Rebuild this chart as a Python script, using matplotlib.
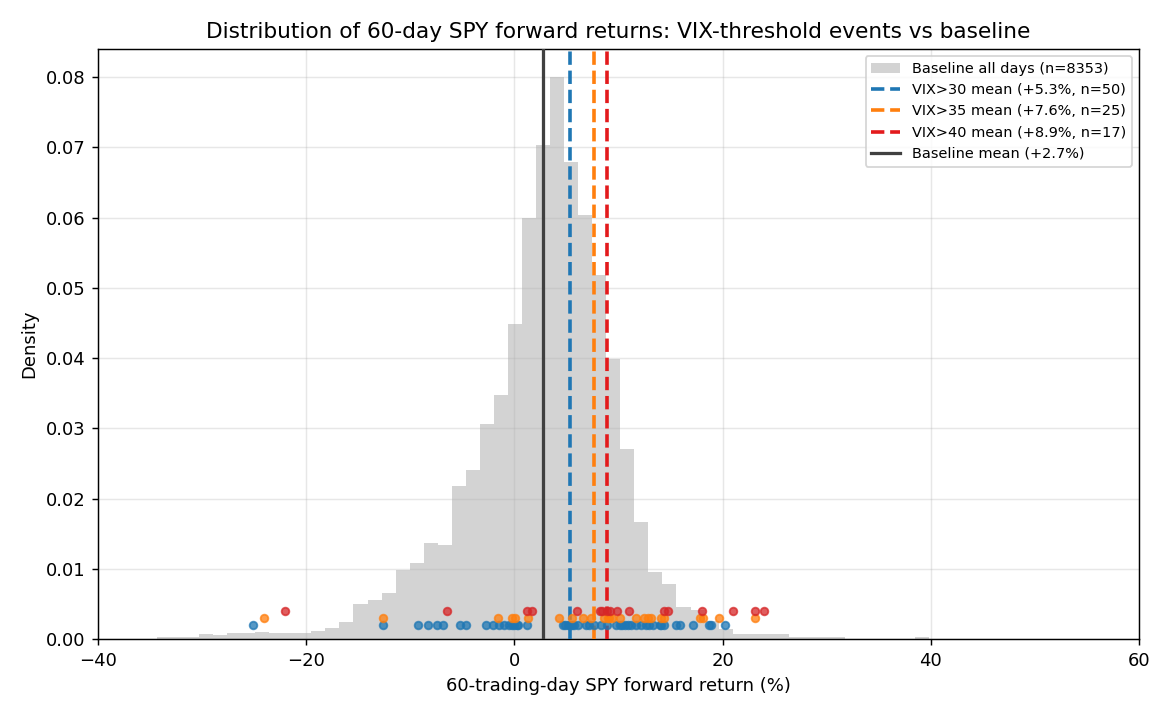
import numpy as np
import matplotlib
matplotlib.use("Agg")
import matplotlib.pyplot as plt

# Baseline histogram (density), 55 equal bins between these limits
hist_lo, hist_hi = -34.35, 39.85
baseline_density = [
    0.00025, 0.00025, 0.00025, 0.0007, 0.00057, 0.0008, 0.0008, 0.0010, 0.0008, 0.0009,
    0.0009, 0.0012, 0.0016, 0.0024, 0.0050, 0.0055, 0.0065, 0.0098, 0.0108, 0.0136,
    0.0134, 0.0218, 0.0241, 0.0306, 0.0347, 0.0448, 0.0600, 0.0703, 0.0800, 0.0679,
    0.0604, 0.0518, 0.0399, 0.0270, 0.0167, 0.0095, 0.0079, 0.0046, 0.0041, 0.0025,
    0.0014, 0.0007, 0.0007, 0.0007, 0.0007, 0.0003, 0.0003, 0.0003, 0.0003, 0.0,
    0.0, 0.0, 0.0, 0.0, 0.0003,
]
baseline_n = 8353
baseline_mean = 2.7

# Event forward returns (%)
vix30_returns = [
    -25.1, -12.6, -9.3, -8.3, -7.4, -6.9, -5.2, -4.7, -2.7, -2.1, -1.45, -1.0,
    -0.5, -0.2, 0.0, 0.2, 0.3, 1.2, 4.7, 4.9, 5.1, 5.3, 5.5, 5.7, 6.15, 6.9,
    7.2, 7.6, 8.3, 8.9, 9.8, 10.1, 10.3, 10.6, 10.9, 11.2, 11.7, 12.2, 12.6, 12.9,
    13.3, 14.0, 14.1, 14.4, 15.5, 15.9, 17.2, 18.7, 18.9, 20.2,
]
vix35_returns = [
    -24.1, -12.6, -1.6, -0.2, 0.1, 1.34, 4.32, 5.5, 6.56, 7.33, 8.6, 9.0, 9.05,
    9.4, 10.1, 11.7, 12.4, 12.8, 13.1, 14.1, 14.4, 17.8, 18.1, 19.7, 23.1,
]
vix40_returns = [
    -22.0, -6.45, 1.17, 1.65, 5.98, 8.2, 8.45, 8.85, 9.2, 9.88, 11.04, 14.4,
    14.8, 18.05, 21.03, 23.1, 24.0,
]
vix_means = [5.3, 7.6, 8.9]
vix_labels = ["VIX>30", "VIX>35", "VIX>40"]
vix_line_colors = ["#1f77b4", "#ff7f0e", "#e31a1c"]
vix_dot_colors = ["#1f77b4", "#ff7f0e", "#d62728"]
rug_levels = [0.002, 0.003, 0.004]

fig, ax = plt.subplots(figsize=(9, 5.5), dpi=130)
fig.subplots_adjust(left=0.0838, right=0.9735, top=0.9315, bottom=0.1063)

edges = np.linspace(hist_lo, hist_hi, len(baseline_density) + 1)
bars = ax.bar(edges[:-1], baseline_density, width=np.diff(edges), align="edge",
              color="lightgray", label=f"Baseline all days (n={baseline_n})", zorder=1)
handles = [bars]

events = [vix30_returns, vix35_returns, vix40_returns]
for rets, m, lab, lc, dc, lvl in zip(events, vix_means, vix_labels,
                                     vix_line_colors, vix_dot_colors, rug_levels):
    ln = ax.axvline(m, color=lc, ls="--", lw=2, zorder=3,
                    label=f"{lab} mean (+{m:.1f}%, n={len(rets)})")
    handles.append(ln)
    ax.scatter(rets, np.full(len(rets), lvl), s=18, color=dc, alpha=0.75, zorder=4)

ln = ax.axvline(baseline_mean, color="#404040", lw=1.8, zorder=3,
                label=f"Baseline mean (+{baseline_mean:.1f}%)")
handles.append(ln)

ax.set_xlim(-40, 60)
ax.set_ylim(0, 0.084)
ax.grid(alpha=0.3)
ax.set_xlabel("60-trading-day SPY forward return (%)")
ax.set_ylabel("Density")
ax.set_title("Distribution of 60-day SPY forward returns: VIX-threshold events vs baseline")
ax.legend(handles=handles, loc="upper right", fontsize=8)

fig.savefig("out.png", dpi=130)
